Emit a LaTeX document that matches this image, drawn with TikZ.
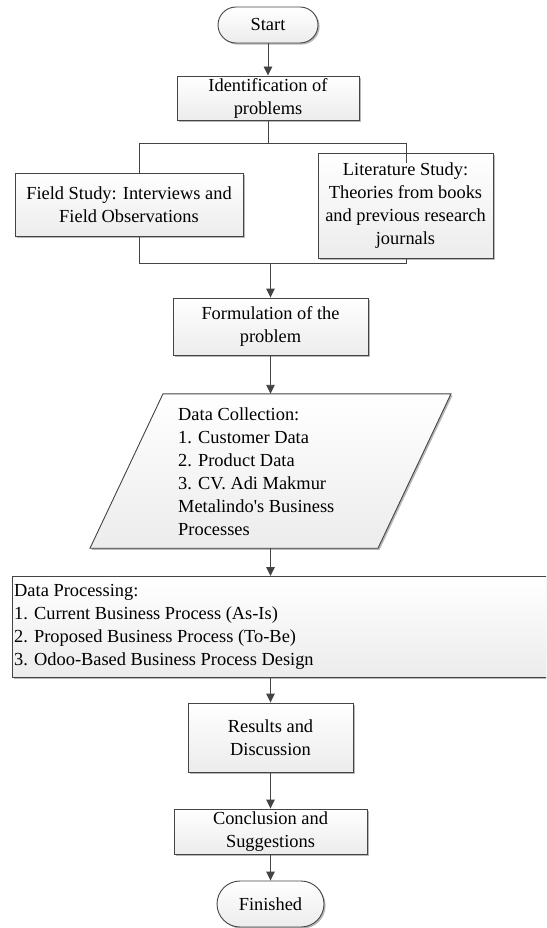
\documentclass[tikz,border=0pt]{standalone}
\usepackage{fontspec}
\setmainfont{Liberation Serif}[Ligatures=TeXOff]
\usetikzlibrary{arrows.meta,shadows}
\definecolor{linec}{HTML}{444444}
\definecolor{boxbot}{HTML}{ECECEC}
\definecolor{shadowc}{HTML}{B8B8B8}
\tikzset{
  boxsty/.style={draw=linec, line width=0.9pt, top color=white, bottom color=boxbot,
    drop shadow={shadow xshift=1.6pt, shadow yshift=-1.6pt, fill=shadowc, opacity=1},
    inner sep=0pt, align=center, font=\fontsize{18.4}{23}\selectfont},
  termsty/.style={boxsty, rounded corners=18pt},
  txtsty/.style={inner sep=0pt, align=left, font=\fontsize{18.4}{23}\selectfont},
  conn/.style={draw=linec, line width=0.9pt},
  arr/.style={conn, -{Triangle[length=9pt,width=8.5pt]}},
}
\begin{document}
\begin{tikzpicture}[x=1pt,y=-1pt]
\clip (0,0) rectangle (546,928);
\useasboundingbox (0,0) rectangle (546,928);
\fill[white] (0,0) rectangle (546,928);

\node[termsty, minimum width=100pt, minimum height=36pt] (start) at (268,25) {Start};
\node[boxsty, minimum width=182pt, minimum height=44pt] (ident) at (268,98) {Identification of\\problems};
\node[boxsty, minimum width=228pt, minimum height=63pt] (field) at (129,204.5) {Field Study: Interviews and\\Field Observations};
\node[boxsty, minimum width=175pt, minimum height=105pt] (lit) at (405.5,205.5) {Literature Study:\\Theories from books\\and previous research\\journals};
\node[boxsty, minimum width=195pt, minimum height=57pt] (form) at (270.5,326.5) {Formulation of the\\problem};

% data collection parallelogram
\node[inner sep=0pt, minimum width=288pt, minimum height=154pt] (dcbox) at (270.5,471) {};
\path[boxsty] ([xshift=-107.5pt]dcbox.north) -- ([xshift=180.5pt]dcbox.north)
  -- ([xshift=107.5pt]dcbox.south) -- ([xshift=-180.5pt]dcbox.south) -- cycle;
\node[txtsty, anchor=west] (dctext) at (178,471.5) {Data Collection:\\1. Customer Data\\2. Product Data\\3. CV. Adi Makmur\\Metalindo's Business\\Processes};

\node[boxsty, minimum width=548pt, minimum height=101pt, anchor=north west] (proc) at (12,576) {};
\node[txtsty, anchor=west] (proctext) at (14,627) {Data Processing:\\1. Current Business Process (As-Is)\\2. Proposed Business Process (To-Be)\\3. Odoo-Based Business Process Design};

\node[boxsty, minimum width=165pt, minimum height=69pt] (res) at (270.5,737.5) {Results and\\Discussion};
\node[boxsty, minimum width=193pt, minimum height=45pt] (concl) at (270.5,831.5) {Conclusion and\\Suggestions};
\node[termsty, minimum width=107pt, minimum height=46pt, rounded corners=23pt] (fin) at (270.5,904) {Finished};

% connectors
\coordinate (splitc) at (268,143);
\coordinate (splitl) at (139,143);
\coordinate (splitr) at (406,143);
\coordinate (litin) at (406,163);
\coordinate (fieldtop) at (139,173);
\coordinate (fieldbot) at (139,236);
\coordinate (joinl) at (139,263);
\coordinate (joinr) at (406,263);
\coordinate (litbot) at (406,258);
\coordinate (joinc) at (270.5,263);
\coordinate (procin) at (270.5,576);
\coordinate (procout) at (270.5,677);

\draw[arr] (start.south) -- (ident.north);
\draw[conn] (ident.south) -- (splitc);
\draw[conn] (splitl) -- (splitr);
\draw[conn] (splitl) -- (fieldtop);
\draw[conn] (splitr) -- (litin);
\draw[conn] (fieldbot) -- (joinl) -- (joinr) -- (litbot);
\draw[arr] (joinc) -- (form.north);
\draw[arr] (form.south) -- (dcbox.north);
\draw[arr] (dcbox.south) -- (procin);
\draw[arr] (procout) -- (res.north);
\draw[arr] (res.south) -- (concl.north);
\draw[arr] (concl.south) -- (fin.north);
\end{tikzpicture}
\end{document}
